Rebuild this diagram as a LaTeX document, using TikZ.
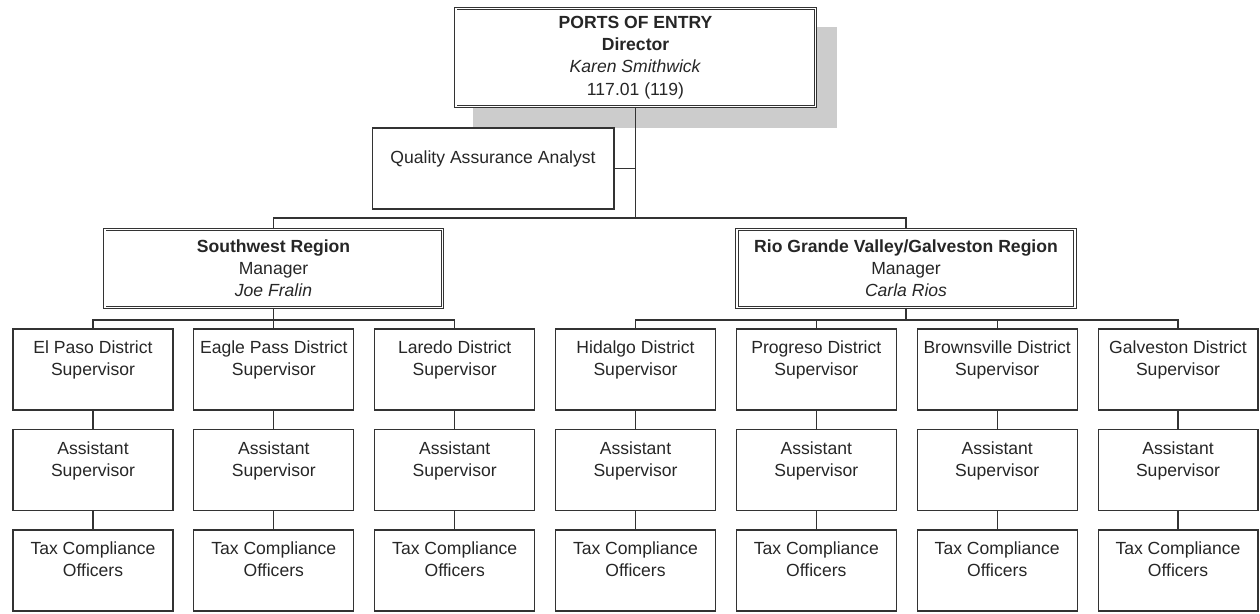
\documentclass[tikz,border=0pt]{standalone}
\usepackage{fontspec}
\setmainfont{Liberation Sans}

\begin{document}
\begin{tikzpicture}[x=0.02cm, y=-0.02cm,
    font=\fontsize{10}{12.6}\selectfont, text=black!85,
    box/.style={draw=black!80, line width=0.6pt, align=center, inner sep=0pt,
        minimum width=3.2cm, minimum height=1.62cm},
    dbox/.style={draw=black!80, line width=0.5pt, double, double distance=1.1pt,
        align=center, inner sep=0pt},
    conn/.style={draw=black!80, line width=0.6pt}]
    \useasboundingbox (0,0) rectangle (1260,613);
    % director
    \fill[black!20] (473,27) rectangle (837,128);
    \node[dbox, fill=white, minimum width=7.2cm, minimum height=1.96cm] (poe) at (635.5,57.5)
        {\textbf{PORTS OF ENTRY}\\\textbf{Director}\\\textit{Karen Smithwick}\\117.01 (119)};
    \node[box, minimum width=4.84cm] (qa) at (493,168.5) {Quality Assurance Analyst\\~};
    % regions
    \node[dbox, minimum width=6.76cm, minimum height=1.56cm] (sw) at (273.5,268.5)
        {\textbf{Southwest Region}\\Manager\\\textit{Joe Fralin}};
    \node[dbox, minimum width=6.76cm, minimum height=1.56cm] (rgv) at (906,268.5)
        {\textbf{Rio Grande Valley/Galveston Region}\\Manager\\\textit{Carla Rios}};
    % districts
    \node[box] (elpaso) at (93,369.5) {El Paso District\\Supervisor\\~};
    \node[box] (eaglepass) at (273.8,369.5) {Eagle Pass District\\Supervisor\\~};
    \node[box] (laredo) at (454.7,369.5) {Laredo District\\Supervisor\\~};
    \node[box] (hidalgo) at (635.5,369.5) {Hidalgo District\\Supervisor\\~};
    \node[box] (progreso) at (816.3,369.5) {Progreso District\\Supervisor\\~};
    \node[box] (brownsville) at (997.2,369.5) {Brownsville District\\Supervisor\\~};
    \node[box] (galveston) at (1178,369.5) {Galveston District\\Supervisor\\~};
    % assistants
    \node[box] (elpasoasst) at (93,470) {Assistant\\Supervisor\\~};
    \node[box] (eaglepassasst) at (273.8,470) {Assistant\\Supervisor\\~};
    \node[box] (laredoasst) at (454.7,470) {Assistant\\Supervisor\\~};
    \node[box] (hidalgoasst) at (635.5,470) {Assistant\\Supervisor\\~};
    \node[box] (progresoasst) at (816.3,470) {Assistant\\Supervisor\\~};
    \node[box] (brownsvilleasst) at (997.2,470) {Assistant\\Supervisor\\~};
    \node[box] (galvestonasst) at (1178,470) {Assistant\\Supervisor\\~};
    % officers
    \node[box] (elpasotco) at (93,570.5) {Tax Compliance\\Officers\\~};
    \node[box] (eaglepasstco) at (273.8,570.5) {Tax Compliance\\Officers\\~};
    \node[box] (laredotco) at (454.7,570.5) {Tax Compliance\\Officers\\~};
    \node[box] (hidalgotco) at (635.5,570.5) {Tax Compliance\\Officers\\~};
    \node[box] (progresotco) at (816.3,570.5) {Tax Compliance\\Officers\\~};
    \node[box] (brownsvilletco) at (997.2,570.5) {Tax Compliance\\Officers\\~};
    \node[box] (galvestontco) at (1178,570.5) {Tax Compliance\\Officers\\~};
    % connectors
    \coordinate (topbus) at (635.5,218);
    \coordinate (swbus) at (273.5,320);
    \coordinate (rgvbus) at (906,320);
    \draw[conn] (poe.south) -- (topbus);
    \draw[conn] (qa.east) -- (qa.east -| poe.south);
    \draw[conn] (sw.north) |- (topbus) -| (rgv.north);
    \draw[conn] (sw.south) -- (swbus);
    \draw[conn] (elpaso.north) |- (swbus) -| (laredo.north);
    \draw[conn] (eaglepass.north) -- (eaglepass.north |- swbus);
    \draw[conn] (rgv.south) -- (rgvbus);
    \draw[conn] (hidalgo.north) |- (rgvbus) -| (galveston.north);
    \draw[conn] (progreso.north) -- (progreso.north |- rgvbus);
    \draw[conn] (brownsville.north) -- (brownsville.north |- rgvbus);
    \draw[conn] (elpaso) -- (elpasoasst) -- (elpasotco);
    \draw[conn] (eaglepass) -- (eaglepassasst) -- (eaglepasstco);
    \draw[conn] (laredo) -- (laredoasst) -- (laredotco);
    \draw[conn] (hidalgo) -- (hidalgoasst) -- (hidalgotco);
    \draw[conn] (progreso) -- (progresoasst) -- (progresotco);
    \draw[conn] (brownsville) -- (brownsvilleasst) -- (brownsvilletco);
    \draw[conn] (galveston) -- (galvestonasst) -- (galvestontco);
\end{tikzpicture}
\end{document}
